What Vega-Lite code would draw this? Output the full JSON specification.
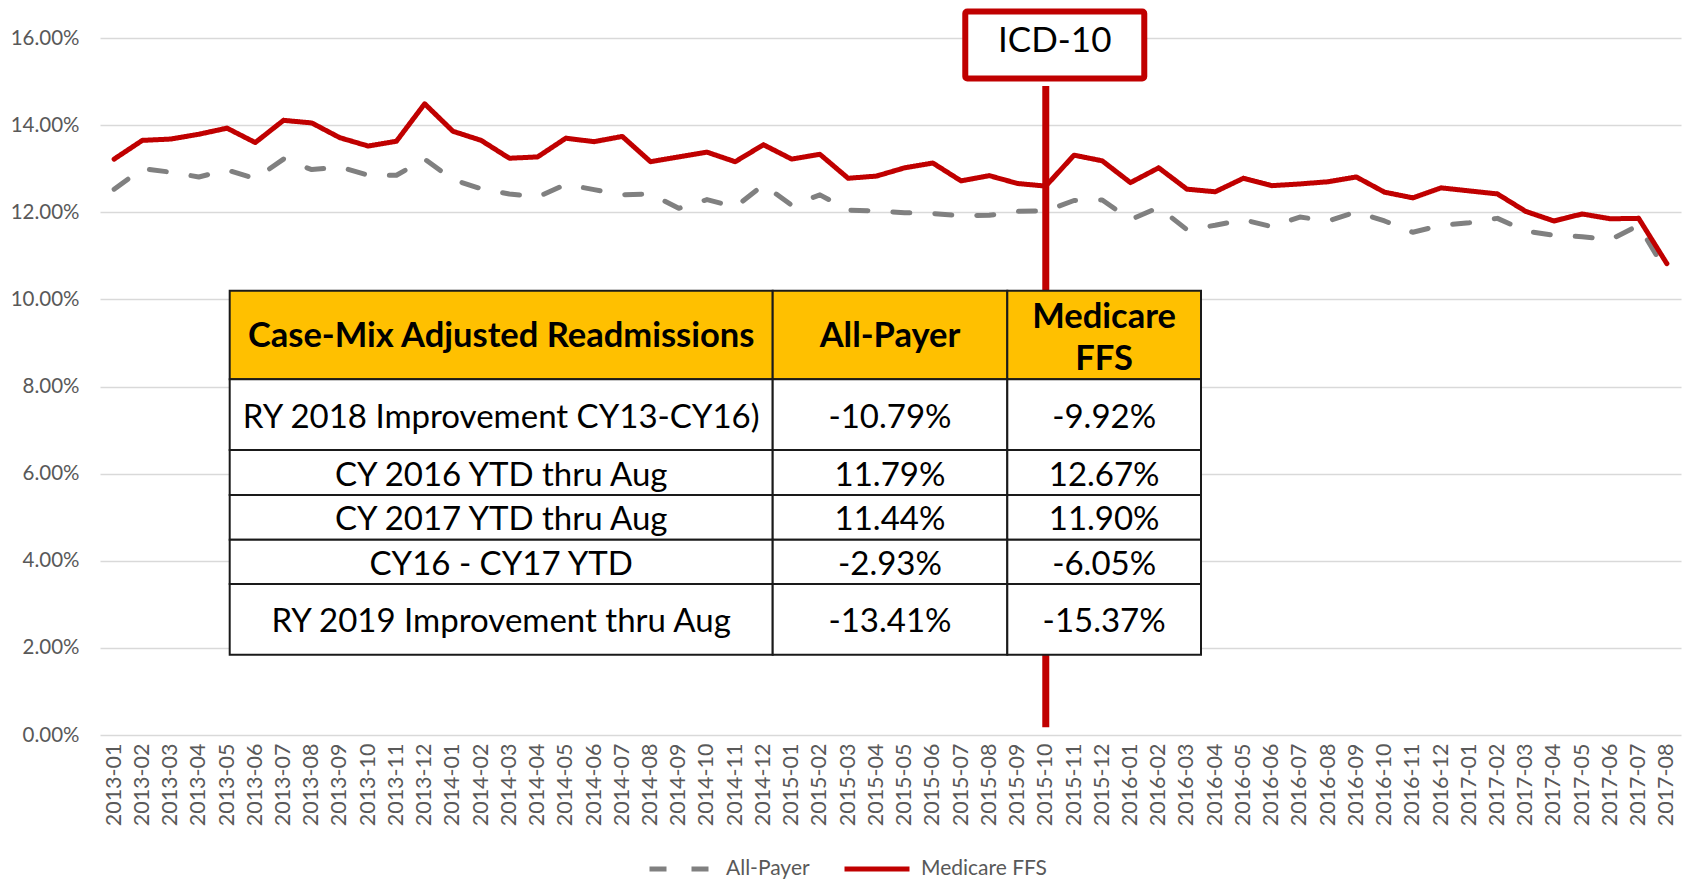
{
  "$schema": "https://vega.github.io/schema/vega-lite/v6.json",
  "width": 1581,
  "height": 697,
  "autosize": {"type": "none"},
  "padding": {"left": 100, "top": 38, "right": 9, "bottom": 146},
  "background": "white",
  "config": {"view": {"stroke": null}, "font": "Lato"},
  "datasets": {
    "series": [
      {"month": "2013-01", "All-Payer": 0.1253, "Medicare FFS": 0.1322},
      {"month": "2013-02", "All-Payer": 0.1300, "Medicare FFS": 0.1365},
      {"month": "2013-03", "All-Payer": 0.1292, "Medicare FFS": 0.1368},
      {"month": "2013-04", "All-Payer": 0.1281, "Medicare FFS": 0.1379},
      {"month": "2013-05", "All-Payer": 0.1297, "Medicare FFS": 0.1393},
      {"month": "2013-06", "All-Payer": 0.1277, "Medicare FFS": 0.1360},
      {"month": "2013-07", "All-Payer": 0.1322, "Medicare FFS": 0.1411},
      {"month": "2013-08", "All-Payer": 0.1298, "Medicare FFS": 0.1405},
      {"month": "2013-09", "All-Payer": 0.1304, "Medicare FFS": 0.1371},
      {"month": "2013-10", "All-Payer": 0.1285, "Medicare FFS": 0.1352},
      {"month": "2013-11", "All-Payer": 0.1285, "Medicare FFS": 0.1363},
      {"month": "2013-12", "All-Payer": 0.1322, "Medicare FFS": 0.1449},
      {"month": "2014-01", "All-Payer": 0.1275, "Medicare FFS": 0.1386},
      {"month": "2014-02", "All-Payer": 0.1254, "Medicare FFS": 0.1365},
      {"month": "2014-03", "All-Payer": 0.1242, "Medicare FFS": 0.1324},
      {"month": "2014-04", "All-Payer": 0.1235, "Medicare FFS": 0.1327},
      {"month": "2014-05", "All-Payer": 0.1264, "Medicare FFS": 0.1370},
      {"month": "2014-06", "All-Payer": 0.1252, "Medicare FFS": 0.1362},
      {"month": "2014-07", "All-Payer": 0.1240, "Medicare FFS": 0.1374},
      {"month": "2014-08", "All-Payer": 0.1242, "Medicare FFS": 0.1316},
      {"month": "2014-09", "All-Payer": 0.1209, "Medicare FFS": 0.1327},
      {"month": "2014-10", "All-Payer": 0.1229, "Medicare FFS": 0.1338},
      {"month": "2014-11", "All-Payer": 0.1212, "Medicare FFS": 0.1316},
      {"month": "2014-12", "All-Payer": 0.1263, "Medicare FFS": 0.1355},
      {"month": "2015-01", "All-Payer": 0.1216, "Medicare FFS": 0.1322},
      {"month": "2015-02", "All-Payer": 0.1240, "Medicare FFS": 0.1333},
      {"month": "2015-03", "All-Payer": 0.1205, "Medicare FFS": 0.1278},
      {"month": "2015-04", "All-Payer": 0.1203, "Medicare FFS": 0.1283},
      {"month": "2015-05", "All-Payer": 0.1199, "Medicare FFS": 0.1302},
      {"month": "2015-06", "All-Payer": 0.1197, "Medicare FFS": 0.1313},
      {"month": "2015-07", "All-Payer": 0.1192, "Medicare FFS": 0.1272},
      {"month": "2015-08", "All-Payer": 0.1193, "Medicare FFS": 0.1284},
      {"month": "2015-09", "All-Payer": 0.1202, "Medicare FFS": 0.1266},
      {"month": "2015-10", "All-Payer": 0.1203, "Medicare FFS": 0.1260},
      {"month": "2015-11", "All-Payer": 0.1227, "Medicare FFS": 0.1331},
      {"month": "2015-12", "All-Payer": 0.1228, "Medicare FFS": 0.1318},
      {"month": "2016-01", "All-Payer": 0.1183, "Medicare FFS": 0.1268},
      {"month": "2016-02", "All-Payer": 0.1211, "Medicare FFS": 0.1302},
      {"month": "2016-03", "All-Payer": 0.1160, "Medicare FFS": 0.1253},
      {"month": "2016-04", "All-Payer": 0.1170, "Medicare FFS": 0.1247},
      {"month": "2016-05", "All-Payer": 0.1183, "Medicare FFS": 0.1278},
      {"month": "2016-06", "All-Payer": 0.1167, "Medicare FFS": 0.1261},
      {"month": "2016-07", "All-Payer": 0.1189, "Medicare FFS": 0.1265},
      {"month": "2016-08", "All-Payer": 0.1180, "Medicare FFS": 0.1270},
      {"month": "2016-09", "All-Payer": 0.1201, "Medicare FFS": 0.1281},
      {"month": "2016-10", "All-Payer": 0.1180, "Medicare FFS": 0.1246},
      {"month": "2016-11", "All-Payer": 0.1154, "Medicare FFS": 0.1233},
      {"month": "2016-12", "All-Payer": 0.1170, "Medicare FFS": 0.1256},
      {"month": "2017-01", "All-Payer": 0.1176, "Medicare FFS": 0.1249},
      {"month": "2017-02", "All-Payer": 0.1186, "Medicare FFS": 0.1242},
      {"month": "2017-03", "All-Payer": 0.1157, "Medicare FFS": 0.1202},
      {"month": "2017-04", "All-Payer": 0.1147, "Medicare FFS": 0.1180},
      {"month": "2017-05", "All-Payer": 0.1144, "Medicare FFS": 0.1196},
      {"month": "2017-06", "All-Payer": 0.1137, "Medicare FFS": 0.1185},
      {"month": "2017-07", "All-Payer": 0.1170, "Medicare FFS": 0.1186},
      {"month": "2017-08", "All-Payer": 0.1061, "Medicare FFS": 0.1082}
    ],
    "table": [
      {"part": "header", "rowStart": 0, "rowEnd": 1, "rowCenter": 0.5, "colStart": 0, "colEnd": 1, "colCenter": 0.5, "text": "Case-Mix Adjusted Readmissions"},
      {"part": "header", "rowStart": 0, "rowEnd": 1, "rowCenter": 0.5, "colStart": 1, "colEnd": 2, "colCenter": 1.5, "text": "All-Payer"},
      {"part": "header", "rowStart": 0, "rowEnd": 1, "rowCenter": 0.5, "colStart": 2, "colEnd": 3, "colCenter": 2.5, "text": "Medicare\nFFS"},
      {"part": "body", "rowStart": 1, "rowEnd": 2, "rowCenter": 1.5, "colStart": 0, "colEnd": 1, "colCenter": 0.5, "text": "RY 2018 Improvement CY13-CY16)"},
      {"part": "body", "rowStart": 1, "rowEnd": 2, "rowCenter": 1.5, "colStart": 1, "colEnd": 2, "colCenter": 1.5, "text": "-10.79%"},
      {"part": "body", "rowStart": 1, "rowEnd": 2, "rowCenter": 1.5, "colStart": 2, "colEnd": 3, "colCenter": 2.5, "text": "-9.92%"},
      {"part": "body", "rowStart": 2, "rowEnd": 3, "rowCenter": 2.5, "colStart": 0, "colEnd": 1, "colCenter": 0.5, "text": "CY 2016 YTD thru Aug"},
      {"part": "body", "rowStart": 2, "rowEnd": 3, "rowCenter": 2.5, "colStart": 1, "colEnd": 2, "colCenter": 1.5, "text": "11.79%"},
      {"part": "body", "rowStart": 2, "rowEnd": 3, "rowCenter": 2.5, "colStart": 2, "colEnd": 3, "colCenter": 2.5, "text": "12.67%"},
      {"part": "body", "rowStart": 3, "rowEnd": 4, "rowCenter": 3.5, "colStart": 0, "colEnd": 1, "colCenter": 0.5, "text": "CY 2017 YTD thru Aug"},
      {"part": "body", "rowStart": 3, "rowEnd": 4, "rowCenter": 3.5, "colStart": 1, "colEnd": 2, "colCenter": 1.5, "text": "11.44%"},
      {"part": "body", "rowStart": 3, "rowEnd": 4, "rowCenter": 3.5, "colStart": 2, "colEnd": 3, "colCenter": 2.5, "text": "11.90%"},
      {"part": "body", "rowStart": 4, "rowEnd": 5, "rowCenter": 4.5, "colStart": 0, "colEnd": 1, "colCenter": 0.5, "text": "CY16 - CY17 YTD"},
      {"part": "body", "rowStart": 4, "rowEnd": 5, "rowCenter": 4.5, "colStart": 1, "colEnd": 2, "colCenter": 1.5, "text": "-2.93%"},
      {"part": "body", "rowStart": 4, "rowEnd": 5, "rowCenter": 4.5, "colStart": 2, "colEnd": 3, "colCenter": 2.5, "text": "-6.05%"},
      {"part": "body", "rowStart": 5, "rowEnd": 6, "rowCenter": 5.5, "colStart": 0, "colEnd": 1, "colCenter": 0.5, "text": "RY 2019 Improvement thru Aug"},
      {"part": "body", "rowStart": 5, "rowEnd": 6, "rowCenter": 5.5, "colStart": 1, "colEnd": 2, "colCenter": 1.5, "text": "-13.41%"},
      {"part": "body", "rowStart": 5, "rowEnd": 6, "rowCenter": 5.5, "colStart": 2, "colEnd": 3, "colCenter": 2.5, "text": "-15.37%"}
    ]
  },
  "layer": [
    {
      "data": {"name": "series"},
      "transform": [{"fold": ["All-Payer", "Medicare FFS"], "as": ["series", "rate"]}],
      "layer": [
        {
          "mark": {"type": "line", "strokeWidth": 5, "strokeCap": "round", "strokeJoin": "round"},
          "encoding": {
            "x": {
              "field": "month", "type": "ordinal",
              "scale": {"type": "point", "padding": 0.5},
              "axis": {"title": null, "labelAngle": -90, "labelFont": "Lato", "labelFontSize": 21.5, "labelColor": "#595959", "labelPadding": 8, "domain": false, "ticks": false, "grid": false}
            },
            "y": {
              "field": "rate", "type": "quantitative",
              "scale": {"domain": [0, 0.16], "nice": false, "zero": true},
              "axis": {"title": null, "values": [0, 0.02, 0.04, 0.06, 0.08, 0.1, 0.12, 0.14, 0.16], "format": ".2%", "labelFont": "Lato", "labelFontSize": 20.5, "labelColor": "#595959", "labelPadding": 21, "domain": false, "ticks": false, "grid": true, "gridColor": "#d9d9d9", "gridWidth": 1.5}
            },
            "color": {
              "field": "series", "type": "nominal",
              "scale": {"domain": ["All-Payer", "Medicare FFS"], "range": ["#808080", "#c00000"]},
              "legend": {"title": null, "orient": "none", "direction": "horizontal", "legendX": 547, "legendY": 796, "symbolType": "stroke", "symbolSize": 4225, "symbolStrokeWidth": 5, "labelFont": "Lato", "labelFontSize": 21, "labelColor": "#595959", "labelOffset": 9, "columnPadding": 24, "padding": 0}
            },
            "strokeDash": {
              "field": "series", "type": "nominal",
              "scale": {"domain": ["All-Payer", "Medicare FFS"], "range": [[17, 25], [1, 0]]},
              "legend": {"title": null, "orient": "none", "direction": "horizontal", "legendX": 547, "legendY": 796, "symbolType": "stroke", "symbolSize": 4225, "symbolStrokeWidth": 5, "labelFont": "Lato", "labelFontSize": 21, "labelColor": "#595959", "labelOffset": 9, "columnPadding": 24, "padding": 0}
            }
          }
        },
        {
          "data": {"values": [{"label": "ICD-10"}]},
          "mark": {"type": "rule", "color": "#c00000", "strokeWidth": 7},
          "encoding": {
            "x": {"datum": "2015-10", "type": "ordinal"},
            "y": {"datum": 0.0018, "type": "quantitative"},
            "y2": {"datum": 0.149}
          }
        },
        {
          "data": {"values": [{"label": "ICD-10"}]},
          "mark": {"type": "rect", "width": 179, "height": 67, "fill": "white", "stroke": "#c00000", "strokeWidth": 6, "xOffset": 9, "cornerRadius": 2},
          "encoding": {
            "x": {"datum": "2015-10", "type": "ordinal"},
            "y": {"datum": 0.1584, "type": "quantitative"}
          }
        },
        {
          "data": {"values": [{"label": "ICD-10"}]},
          "mark": {"type": "text", "font": "Lato", "fontSize": 35, "color": "black", "xOffset": 9, "baseline": "middle", "align": "center"},
          "encoding": {
            "x": {"datum": "2015-10", "type": "ordinal"},
            "y": {"datum": 0.1593, "type": "quantitative"},
            "text": {"field": "label"}
          }
        }
      ]
    },
    {
      "data": {"name": "table"},
      "layer": [
        {
          "transform": [{"filter": "datum.part == 'header'"}],
          "mark": {"type": "rect", "fill": "#ffc000", "stroke": "#1a1a1a", "strokeWidth": 2},
          "encoding": {
            "x": {"field": "colStart", "type": "quantitative", "scale": {"domain": [0, 1, 2, 3], "range": [129.7, 672.7, 907.3, 1101], "nice": false, "zero": false}, "axis": null},
            "x2": {"field": "colEnd"},
            "y": {"field": "rowStart", "type": "quantitative", "scale": {"domain": [0, 1, 2, 3, 4, 5, 6], "range": [252.7, 341.3, 412, 457, 501.7, 546, 616.7], "nice": false, "zero": false}, "axis": null},
            "y2": {"field": "rowEnd"}
          }
        },
        {
          "transform": [{"filter": "datum.part == 'body'"}],
          "mark": {"type": "rect", "fill": "white", "stroke": "#1a1a1a", "strokeWidth": 2},
          "encoding": {
            "x": {"field": "colStart", "type": "quantitative", "axis": null},
            "x2": {"field": "colEnd"},
            "y": {"field": "rowStart", "type": "quantitative", "axis": null},
            "y2": {"field": "rowEnd"}
          }
        },
        {
          "transform": [{"filter": "datum.part == 'header' && datum.colStart < 2"}],
          "mark": {"type": "text", "font": "Lato", "fontSize": 34.5, "fontWeight": "bold", "color": "black", "align": "center", "baseline": "middle", "dy": 2},
          "encoding": {
            "x": {"field": "colCenter", "type": "quantitative", "axis": null},
            "y": {"field": "rowCenter", "type": "quantitative", "axis": null},
            "text": {"field": "text"}
          }
        },
        {
          "transform": [{"filter": "datum.part == 'header' && datum.colStart == 2"}],
          "mark": {"type": "text", "font": "Lato", "fontSize": 34.5, "fontWeight": "bold", "color": "black", "align": "center", "baseline": "middle", "lineBreak": "\n", "lineHeight": 42, "dy": -17},
          "encoding": {
            "x": {"field": "colCenter", "type": "quantitative", "axis": null},
            "y": {"field": "rowCenter", "type": "quantitative", "axis": null},
            "text": {"field": "text"}
          }
        },
        {
          "transform": [{"filter": "datum.part == 'body'"}],
          "mark": {"type": "text", "font": "Lato", "fontSize": 33, "color": "black", "align": "center", "baseline": "middle", "dy": 3},
          "encoding": {
            "x": {"field": "colCenter", "type": "quantitative", "axis": null},
            "y": {"field": "rowCenter", "type": "quantitative", "axis": null},
            "text": {"field": "text"}
          }
        }
      ]
    }
  ],
  "resolve": {"scale": {"x": "independent", "y": "independent"}}
}
